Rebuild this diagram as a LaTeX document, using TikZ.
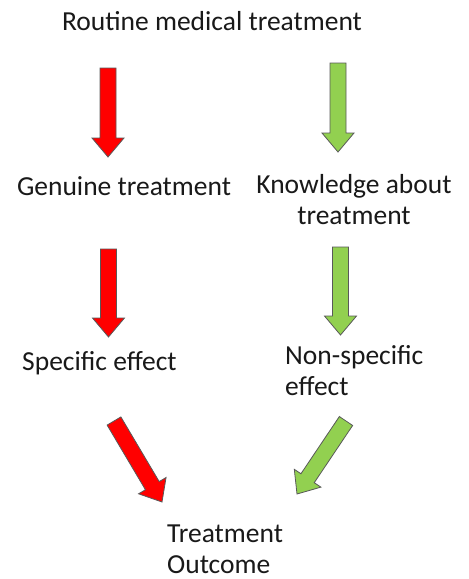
\documentclass[tikz,border=0pt]{standalone}
\usepackage{fontspec}
\setmainfont{Carlito}
\usetikzlibrary{calc}
\definecolor{arrred}{HTML}{FF0000}
\definecolor{arrgreen}{HTML}{92D050}
\tikzset{
  blockarrow/.style={draw=black!65, line width=0.8pt, line join=miter},
  lbl/.style={inner sep=0pt, font=\fontsize{27.5}{31}\selectfont, text=black!90},
}
\newcommand\barrow[3]{%
  \coordinate (hb) at ($(#3)!19pt!(#2)$);
  \draw[blockarrow, fill=#1]
    ($(#2)!8pt!90:(#3)$) -- ($(hb)!8pt!-90:(#2)$) -- ($(hb)!16pt!-90:(#2)$)
    -- (#3) -- ($(hb)!16pt!90:(#2)$) -- ($(hb)!8pt!90:(#2)$)
    -- ($(#2)!8pt!-90:(#3)$) -- cycle;
}
\begin{document}
\begin{tikzpicture}[x=1pt,y=-1pt]
\useasboundingbox[fill=white] (0,0) rectangle (469,579);
\node[lbl, anchor=base] (routine) at (212,30) {Routine medical treatment};
\node[lbl, anchor=base] (genuine) at (124,195) {Genuine treatment};
\node[lbl, anchor=base, align=center] (knowledge) at (354,224) {Knowledge about\\treatment};
\node[lbl, anchor=base west] (specific) at (22,370) {Specific effect};
\node[lbl, anchor=base west, align=left] (nonspec) at (285,395) {Non-specific\\effect};
\node[lbl, anchor=base west, align=left] (outcome) at (167,573) {Treatment\\Outcome};
\coordinate (r1a) at (108,68);  \coordinate (r1b) at (108,157);
\coordinate (g1a) at (338,63);  \coordinate (g1b) at (338,152);
\coordinate (r2a) at (108.5,249); \coordinate (r2b) at (108.5,337);
\coordinate (g2a) at (340.5,247); \coordinate (g2b) at (340.5,335);
\coordinate (r3a) at (114,421); \coordinate (r3b) at (162,502);
\coordinate (g3a) at (346,421); \coordinate (g3b) at (297,494);
\barrow{arrred}{r1a}{r1b}
\barrow{arrgreen}{g1a}{g1b}
\barrow{arrred}{r2a}{r2b}
\barrow{arrgreen}{g2a}{g2b}
\barrow{arrred}{r3a}{r3b}
\barrow{arrgreen}{g3a}{g3b}
\end{tikzpicture}
\end{document}
